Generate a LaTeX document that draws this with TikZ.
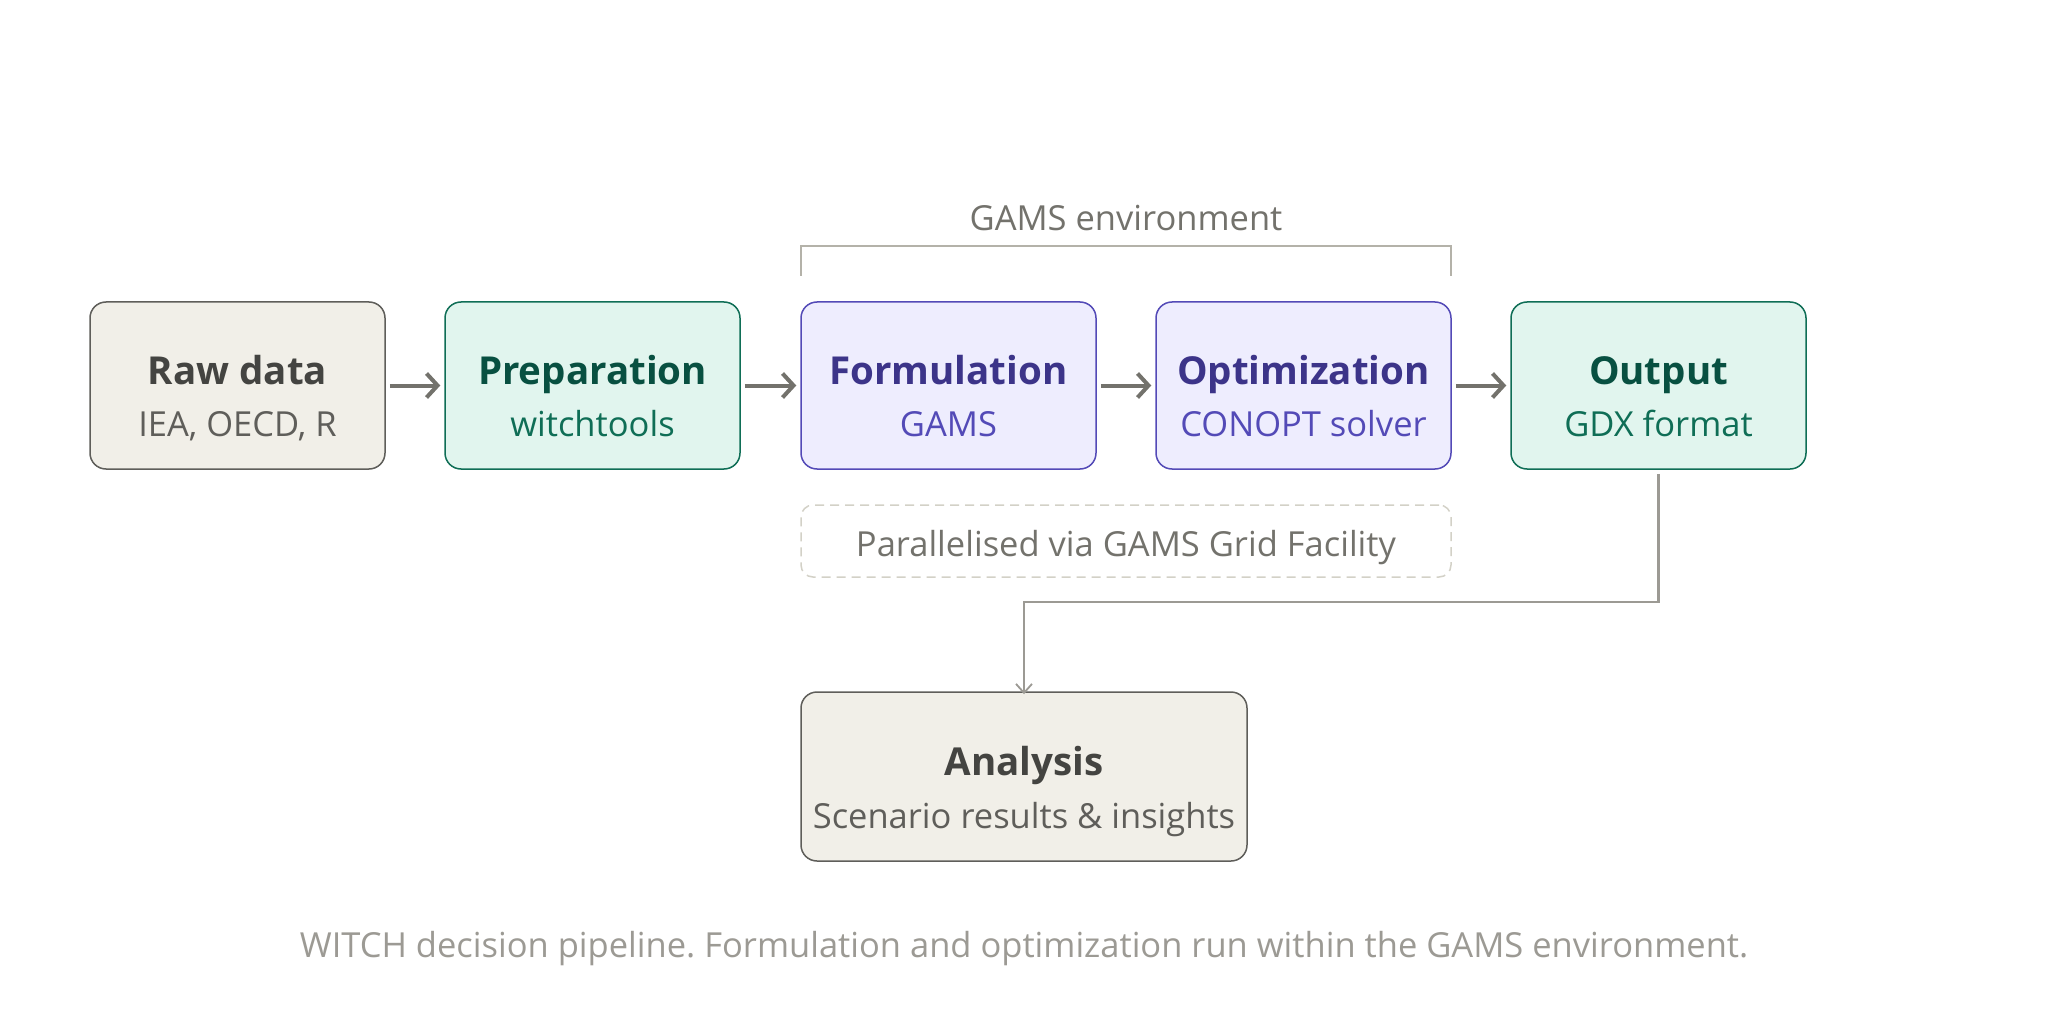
\documentclass[tikz,border=0pt]{standalone}
\usepackage{fontspec}
\setmainfont{Open Sans}
\usetikzlibrary{arrows.meta}
\frenchspacing
\definecolor{grayfill}{HTML}{F1EFE8}
\definecolor{grayline}{HTML}{5F5E5A}
\definecolor{graytitle}{HTML}{444441}
\definecolor{graysub}{HTML}{5F5E5A}
\definecolor{tealfill}{HTML}{E1F5EE}
\definecolor{tealline}{HTML}{0F6E56}
\definecolor{tealtitle}{HTML}{085041}
\definecolor{tealsub}{HTML}{0F6E56}
\definecolor{purpfill}{HTML}{EEEDFE}
\definecolor{purpline}{HTML}{534AB7}
\definecolor{purptitle}{HTML}{3C3489}
\definecolor{purpsub}{HTML}{534AB7}
\definecolor{arrowgray}{HTML}{73726C}
\definecolor{linkgray}{HTML}{9C9A94}
\definecolor{brackgray}{HTML}{B4B2A9}
\definecolor{dashgray}{HTML}{D3D1C7}
\definecolor{labelgray}{HTML}{73726C}
\definecolor{capgray}{HTML}{9C9A94}
\begin{document}
\begin{tikzpicture}[x=1pt,y=-1pt,
  box/.style={rounded corners=16pt, minimum width=295pt, minimum height=167pt, line width=1.5pt, inner sep=0pt},
  graybox/.style={box, fill=grayfill, draw=grayline},
  tealbox/.style={box, fill=tealfill, draw=tealline},
  purpbox/.style={box, fill=purpfill, draw=purpline},
  ttl/.style={anchor=base, inner sep=0pt, font=\fontsize{38.5}{44}\selectfont\bfseries},
  sub/.style={anchor=base, inner sep=0pt, font=\fontsize{34.5}{40}\selectfont},
  arr/.style={draw=arrowgray, line width=4pt, shorten <=4pt, shorten >=4pt, -{Straight Barb[length=11pt,width=24pt,line width=4pt]}},
  link/.style={draw=linkgray, line width=2.5pt, -{Straight Barb[length=9pt,width=16pt,line width=1.8pt]}},
]
\useasboundingbox (0,0) rectangle (2048,1024);
\fill[white] (0,0) rectangle (2048,1024);

% boxes
\node[graybox] (raw)  at (237.5,385.5) {};
\node[tealbox] (prep) at (592.5,385.5) {};
\node[purpbox] (form) at (948.5,385.5) {};
\node[purpbox] (opt)  at (1303.5,385.5) {};
\node[tealbox] (out)  at (1658.5,385.5) {};
\node[graybox, minimum width=446pt, minimum height=169pt] (ana) at (1024,776.5) {};

% texts
\node[ttl, text=graytitle] (rawt) at (237.5,384) {Raw data};
\node[sub, text=graysub] (raws) at (237.5,436) {IEA, OECD, R};
\node[ttl, text=tealtitle] (prept) at (592.5,384) {Preparation};
\node[sub, text=tealsub] (preps) at (592.5,436) {witchtools};
\node[ttl, text=purptitle] (formt) at (948.5,384) {Formulation};
\node[sub, text=purpsub] (forms) at (948.5,436) {GAMS};
\node[ttl, text=purptitle] (optt) at (1303.5,384) {Optimization};
\node[sub, text=purpsub] (opts) at (1303.5,436) {CONOPT solver};
\node[ttl, text=tealtitle] (outt) at (1658.5,384) {Output};
\node[sub, text=tealsub] (outs) at (1658.5,436) {GDX format};
\node[ttl, text=graytitle] (anat) at (1024,775) {Analysis};
\node[sub, text=graysub] (anas) at (1024,828) {Scenario results \& insights};

% arrows
\draw[arr] (raw) -- (prep);
\draw[arr] (prep) -- (form);
\draw[arr] (form) -- (opt);
\draw[arr] (opt) -- (out);

% GAMS environment bracket
\node[sub, text=labelgray] (gams) at (1126,231) {GAMS environment};
\coordinate (bl) at (801,276);
\coordinate (br) at (1451,276);
\draw[brackgray, line width=1.5pt] (bl) -- (801,246) -- (1451,246) -- (br);

% dashed parallel box
\node[draw=dashgray, dashed, dash pattern=on 9pt off 6pt, line width=1.5pt, rounded corners=12pt, minimum width=650pt, minimum height=72pt, inner sep=0pt] (par) at (1126,541) {};
\node[sub, text=labelgray] (part) at (1126,556) {Parallelised via GAMS Grid Facility};

% link output -> analysis
\coordinate (os) at ([yshift=-4pt]out.south);
\draw[link] (os) |- (1024,602) -- ([yshift=-3pt]ana.north);

% caption
\node[sub, text=capgray] (cap) at (1024,957) {WITCH decision pipeline. Formulation and optimization run within the GAMS environment.};
\end{tikzpicture}
\end{document}
